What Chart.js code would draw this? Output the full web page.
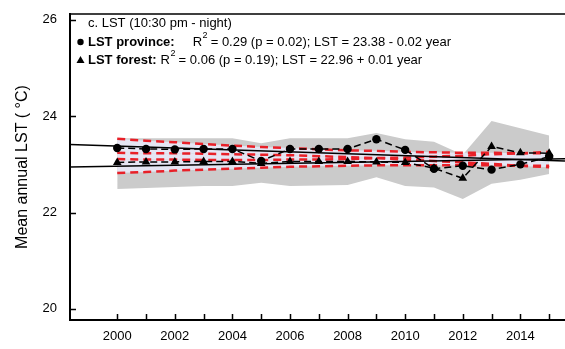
<!DOCTYPE html>
<html>
<head>
<meta charset="utf-8">
<script src="https://cdn.jsdelivr.net/npm/chart.js@4.4.1/dist/chart.umd.min.js"></script>
<style>
  html, body { margin: 0; padding: 0; background: #fff; }
</style>
</head>
<body>
<canvas id="lstChart" width="565" height="349"></canvas>
<script>
const years = [2000, 2001, 2002, 2003, 2004, 2005, 2006, 2007, 2008, 2009, 2010, 2011, 2012, 2013, 2014, 2015];

const lstProvince = [23.34, 23.32, 23.31, 23.32, 23.32, 23.07, 23.32, 23.32, 23.32, 23.52, 23.30, 22.91, 22.97, 22.89, 23.00, 23.16];
const lstForest   = [23.04, 23.05, 23.05, 23.06, 23.06, 23.02, 23.06, 23.06, 23.06, 23.05, 23.04, 22.92, 22.71, 23.37, 23.24, 23.23];

// grey range band
const rangeTop    = [23.54, 23.54, 23.54, 23.54, 23.54, 23.44, 23.54, 23.54, 23.54, 23.65, 23.52, 23.47, 23.20, 23.90, 23.75, 23.60];
const rangeBottom = [22.49, 22.51, 22.53, 22.55, 22.55, 22.62, 22.55, 22.56, 22.57, 22.73, 22.55, 22.52, 22.28, 22.60, 22.68, 22.80];

// 95% confidence bands of the two regressions
const provinceCiUpper = [23.53, 23.49, 23.46, 23.42, 23.39, 23.36, 23.34, 23.31, 23.29, 23.28, 23.26, 23.25, 23.24, 23.24, 23.23, 23.23];
const provinceCiLower = [23.24, 23.23, 23.23, 23.22, 23.21, 23.20, 23.19, 23.17, 23.15, 23.13, 23.10, 23.07, 23.04, 23.01, 22.97, 22.94];
const forestCiUpper   = [23.11, 23.10, 23.10, 23.09, 23.09, 23.09, 23.10, 23.10, 23.11, 23.13, 23.14, 23.16, 23.18, 23.21, 23.23, 23.26];
const forestCiLower   = [22.82, 22.84, 22.87, 22.89, 22.91, 22.93, 22.95, 22.96, 22.97, 22.98, 22.98, 22.98, 22.98, 22.98, 22.97, 22.97];

// fitted equations, year counted from 2000
const provinceFit = { a: 23.38, b: -0.02 };
const forestFit = { a: 22.96, b: 0.01 };

const xLabels = [2000, 2002, 2004, 2006, 2008, 2010, 2012, 2014];
const yTicks = [20, 22, 24, 26];

const xMin = 1998.36, xMax = 2015.55;
const yMin = 19.77, yMax = 26.12;

const FONT = "'Liberation Sans', Arial, sans-serif";

const pts = vals => vals.map((v, i) => ({ x: years[i], y: v }));
const fitLine = f => [xMin, xMax].map(x => ({ x: x, y: f.a + f.b * (x - 2000) }));

const RED = 'rgb(232, 32, 40)';
const LAVENDER = '#e5e5f3';

const ciLine = (vals, fill) => ({
  data: pts(vals),
  borderColor: RED,
  borderWidth: 2.5,
  borderDash: [8, 5],
  pointRadius: 0,
  fill: fill,
  backgroundColor: LAVENDER,
  order: 3,
});

// inward tick marks, top frame and the text block
const decorations = {
  id: 'decorations',
  afterDraw(chart) {
    const { ctx, chartArea: ca, scales: { x, y } } = chart;
    ctx.save();
    ctx.strokeStyle = '#000';
    ctx.lineWidth = 1.5;
    ctx.beginPath();
    ctx.moveTo(ca.left, ca.top);
    ctx.lineTo(ca.right, ca.top);
    years.forEach(v => {
      const px = Math.round(x.getPixelForValue(v)) + 0.5;
      ctx.moveTo(px, ca.bottom);
      ctx.lineTo(px, ca.bottom - 6);
    });
    yTicks.forEach(v => {
      const py = Math.round(y.getPixelForValue(v)) + 0.5;
      ctx.moveTo(ca.left, py);
      ctx.lineTo(ca.left + 6, py);
    });
    ctx.stroke();

    ctx.fillStyle = '#000';
    ctx.textBaseline = 'middle';
    ctx.font = '13px ' + FONT;
    ctx.fillText('c. LST (10:30 pm - night)', 88, 23);

    const rows = [
      { y: 42, marker: 'circle', name: 'LST province:', gap: 18, rest: ' = 0.29 (p = 0.02); LST = 23.38 - 0.02 year' },
      { y: 60, marker: 'triangle', name: 'LST forest:', gap: 4, rest: ' = 0.06 (p = 0.19); LST = 22.96 + 0.01 year' },
    ];
    rows.forEach(r => {
      ctx.beginPath();
      if (r.marker === 'circle') {
        ctx.arc(80.5, r.y, 3.2, 0, Math.PI * 2);
      } else {
        ctx.moveTo(80.5, r.y - 4);
        ctx.lineTo(84.5, r.y + 3);
        ctx.lineTo(76.5, r.y + 3);
        ctx.closePath();
      }
      ctx.fill();
      let tx = 88;
      ctx.font = 'bold 13px ' + FONT;
      ctx.fillText(r.name, tx, r.y);
      tx += ctx.measureText(r.name).width + r.gap;
      ctx.font = '13px ' + FONT;
      ctx.fillText('R', tx, r.y);
      tx += ctx.measureText('R').width;
      ctx.font = '9px ' + FONT;
      ctx.fillText('2', tx + 0.5, r.y - 6);
      tx += ctx.measureText('2').width;
      ctx.font = '13px ' + FONT;
      ctx.fillText(r.rest, tx, r.y);
    });
    ctx.restore();
  }
};

new Chart(document.getElementById('lstChart'), {
  type: 'line',
  data: {
    datasets: [
      {
        label: 'LST province',
        data: pts(lstProvince),
        borderColor: '#000',
        borderWidth: 1.5,
        borderDash: [7, 4],
        pointStyle: 'circle',
        pointRadius: 4.2,
        pointBackgroundColor: '#000',
        pointBorderWidth: 0,
        fill: false,
        order: 1,
      },
      {
        label: 'LST forest',
        data: pts(lstForest),
        borderColor: '#000',
        borderWidth: 1.5,
        borderDash: [7, 4],
        pointStyle: 'triangle',
        pointRadius: 5,
        pointBackgroundColor: '#000',
        pointBorderWidth: 0,
        fill: false,
        order: 1,
      },
      { data: fitLine(provinceFit), borderColor: '#000', borderWidth: 1.5, pointRadius: 0, fill: false, order: 2 },
      { data: fitLine(forestFit), borderColor: '#000', borderWidth: 1.5, pointRadius: 0, fill: false, order: 2 },
      ciLine(provinceCiUpper, '+1'),
      ciLine(provinceCiLower, '+1'),
      ciLine(forestCiUpper, '+1'),
      ciLine(forestCiLower, false),
      { data: pts(rangeTop), borderWidth: 0, pointRadius: 0, fill: '+1', backgroundColor: '#cbcbcb', order: 4 },
      { data: pts(rangeBottom), borderWidth: 0, pointRadius: 0, fill: false, order: 4 },
    ]
  },
  options: {
    responsive: false,
    animation: false,
    // the plot runs off the right edge of the canvas
    layout: { autoPadding: false, padding: { top: 14, left: 0, right: 0, bottom: 0 } },
    plugins: {
      legend: { display: false },
      tooltip: { enabled: false },
      filler: { drawTime: 'beforeDatasetsDraw' },
    },
    scales: {
      x: {
        type: 'linear',
        min: xMin,
        max: xMax,
        afterBuildTicks: s => { s.ticks = years.map(v => ({ value: v })); },
        afterFit: s => { s.height = 29; s.paddingLeft = 0; s.paddingRight = 0; },
        ticks: {
          autoSkip: false,
          maxRotation: 0,
          padding: 9,
          color: '#000',
          font: { family: FONT, size: 13, weight: 'normal' },
          callback: v => xLabels.includes(v) ? String(v) : '',
        },
        grid: { display: false, drawTicks: false },
        border: { display: true, color: '#000', width: 2 },
      },
      y: {
        min: yMin,
        max: yMax,
        afterBuildTicks: s => { s.ticks = yTicks.map(v => ({ value: v })); },
        afterFit: s => { s.width = 70; s.paddingTop = 0; s.paddingBottom = 0; },
        ticks: {
          padding: 13,
          color: '#000',
          font: { family: FONT, size: 13, weight: 'normal' },
        },
        grid: { display: false, drawTicks: false },
        border: { display: true, color: '#000', width: 2 },
        title: {
          display: true,
          text: 'Mean annual LST ( °C)',
          color: '#000',
          font: { family: FONT, size: 16, weight: 'normal' },
          padding: { top: 13, bottom: 0 },
        },
      },
    },
  },
  plugins: [decorations],
});
</script>
</body>
</html>
